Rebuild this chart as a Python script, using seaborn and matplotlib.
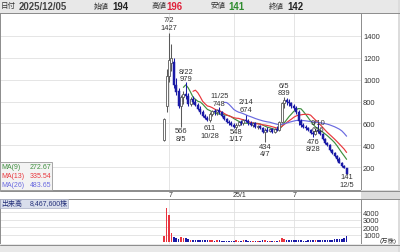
import matplotlib
matplotlib.use("Agg")
import matplotlib.pyplot as plt
import matplotlib.transforms as mtransforms
from matplotlib.patches import Rectangle
import numpy as np
import pandas as pd
import seaborn as sns

# ---------------- data (weekly candles, price in yen, volume in 万株) ----------------
week_start = "2024-06-17"
opens = [450, 760, 1030, 1150, 1160, 950, 900, 760, 840, 870, 850, 780, 820, 800, 770, 730, 700, 670, 650, 630,
         690, 710, 700, 720, 700, 670, 640, 610, 600, 590, 570, 590, 610, 600, 630, 620, 600, 590, 600, 570,
         580, 560, 520, 540, 530, 550, 520, 550, 540, 610, 790, 810, 800, 790, 760, 740, 700, 620, 590, 570,
         560, 540, 510, 500, 540, 530, 500, 460, 418, 400, 360, 330, 300, 272, 242, 213, 194]
highs = [650, 1100, 1427, 1320, 1200, 1010, 920, 860, 900, 979, 880, 840, 850, 820, 790, 760, 720, 690, 670, 700,
         720, 730, 730, 748, 710, 680, 650, 630, 620, 600, 600, 620, 630, 640, 674, 640, 620, 610, 610, 590,
         590, 570, 560, 570, 560, 560, 560, 580, 620, 800, 839, 830, 820, 800, 780, 760, 720, 640, 600, 590,
         570, 550, 530, 540, 606, 540, 510, 470, 430, 410, 370, 340, 310, 290, 250, 220, 196]
lows = [440, 700, 980, 1080, 920, 860, 740, 566, 780, 820, 760, 760, 780, 760, 720, 690, 660, 640, 620, 611,
        670, 680, 680, 690, 660, 630, 600, 590, 580, 560, 548, 580, 590, 590, 610, 590, 580, 570, 560, 550,
        550, 510, 434, 520, 520, 510, 510, 530, 530, 600, 740, 770, 760, 740, 720, 690, 590, 570, 560, 540,
        530, 500, 476, 490, 510, 490, 450, 410, 390, 350, 320, 290, 260, 235, 205, 190, 141]
closes = [640, 1030, 1180, 1200, 950, 890, 760, 840, 870, 850, 780, 820, 800, 770, 730, 700, 670, 650, 630, 690,
          710, 700, 720, 700, 670, 640, 610, 600, 590, 570, 590, 610, 600, 630, 620, 600, 590, 600, 570, 580,
          560, 520, 540, 530, 550, 520, 550, 540, 610, 790, 810, 800, 790, 760, 740, 700, 620, 590, 570, 560,
          540, 510, 500, 530, 530, 500, 460, 418, 400, 360, 330, 300, 272, 242, 213, 195, 142]
volumes = [800, 4600, 3700, 1200, 700, 500, 450, 700, 500, 600, 400, 350, 300, 280, 300, 260, 250, 230, 240, 300,
           280, 220, 230, 260, 220, 200, 210, 180, 170, 200, 230, 220, 200, 240, 280, 220, 200, 190, 210, 180,
           190, 230, 300, 220, 200, 190, 210, 200, 350, 500, 450, 300, 260, 240, 230, 260, 300, 240, 220, 210,
           230, 240, 280, 260, 300, 250, 270, 300, 280, 320, 350, 380, 420, 450, 480, 520, 847]

ma_periods = [9, 13, 26]
ma_names = ["MA(9)", "MA(13)", "MA(26)"]
ma_last_text = ["272.67", "335.54", "483.65"]
ma_colors = ["#3f8f3f", "#e8383d", "#6a6ae0"]

price_ticks = [200, 400, 600, 800, 1000, 1200, 1400]
volume_ticks = [1000, 2000, 3000, 4000]
month_tick_dates = ["2024-07-01", "2025-01-06", "2025-06-30"]
month_tick_labels = ["7", "25/1", "7"]

# (week index, kind, date text, value offset px, date offset px)
hl_labels = [
    (2, "high", "7/2", 5.5, 13.5), (7, "low", "8/5", 3.5, 11), (9, "high", "8/22", 3, 10.5),
    (19, "low", "10/28", 5, 13), (23, "high", "11/25", 3.5, 11.5), (30, "low", "1/17", 2.5, 9.5),
    (34, "high", "2/14", 5.5, 13.5), (42, "low", "4/7", 4.5, 11.5), (50, "high", "6/5", 4.5, 11.5),
    (62, "low", "8/28", 4, 11), (64, "high", "9/10", -6.5, 0.5), (76, "low", "12/5", 3, 10.5),
]
header_date = "2025/12/05"
volume_text = "8,467,600株"

# ---------------- frame ----------------
sns.set_theme(style="white")
plt.rcParams["font.family"] = ["Liberation Sans", "Noto Sans CJK JP", "DejaVu Sans"]

W, H = 400, 253
fig = plt.figure(figsize=(W / 100, H / 100), dpi=100)
fig.patch.set_facecolor("white")


def fax(x0, y0, x1, y1):
    return [x0 / W, 1 - y1 / H, (x1 - x0) / W, (y1 - y0) / H]


def fx(x):
    return x / W


def fy(y):
    return 1 - y / H


# background strips
fig.patches.append(Rectangle((0, fy(13.5)), 1, 13.5 / H, transform=fig.transFigure,
                             facecolor="#e8e8e8", edgecolor="none", zorder=0))
fig.patches.append(Rectangle((0, 0), 1, 8 / H, transform=fig.transFigure,
                             facecolor="#e8e8e8", edgecolor="none", zorder=0))
fig.patches.append(Rectangle((fx(361), fy(200)), 39 / W, 9 / H, transform=fig.transFigure,
                             facecolor="#dcdcdc", edgecolor="none", zorder=0))
fig.patches.append(Rectangle((fx(398), 0), 2 / W, 1, transform=fig.transFigure,
                             facecolor="#dcdcdc", edgecolor="none", zorder=0))
for yy in [13.5, 191.5, 199.5, 245.5]:
    fig.lines.append(plt.Line2D([0, 1], [fy(yy), fy(yy)], transform=fig.transFigure,
                                color="#8c8c8c", lw=0.7))

n = len(closes)
df = pd.DataFrame({"idx": np.arange(n), "open": opens, "high": highs, "low": lows,
                   "close": closes, "volume": volumes})
for p in ma_periods:
    df[f"ma{p}"] = df["close"].rolling(p).mean()
up = (df["close"] >= df["open"]).to_numpy()

start = pd.Timestamp(week_start)
month_pos = [(pd.Timestamp(d) - start).days // 7 for d in month_tick_dates]

x_lo, x_hi = -68.42, 82.0

# ---------------- price panel ----------------
ax = fig.add_axes(fax(0, 14, 361, 191))
ax.set_facecolor("white")
for i, p in enumerate(ma_periods):
    sns.lineplot(data=df, x="idx", y=f"ma{p}", ax=ax, color=ma_colors[i], lw=0.85, zorder=2, legend=False)

down_c = "#1a1aa6"
up_edge = "#5a5a5a"
ax.vlines(df["idx"], df["low"], df["high"], colors=np.where(up, up_edge, down_c), lw=0.75, zorder=3)
bb = np.minimum(df["open"], df["close"]).to_numpy()
bh = np.maximum(np.abs(df["close"] - df["open"]).to_numpy(), 4)
ax.bar(df["idx"][up], bh[up], bottom=bb[up], width=0.85, facecolor="white", edgecolor=up_edge, lw=0.6, zorder=4)
ax.bar(df["idx"][~up], bh[~up], bottom=bb[~up], width=0.85, color=down_c, edgecolor=down_c, lw=0.35, zorder=4)

ax.set_xlim(x_lo, x_hi)
ax.set_ylim(-7, 1607)
ax.set_yticks(price_ticks)
ax.set_xticks(month_pos)
ax.set_xticklabels([])
ax.grid(True, color="#e0e0e0", lw=0.6)
ax.set_axisbelow(True)
ax.yaxis.tick_right()
ax.tick_params(axis="y", length=0, pad=1.5, labelsize=5.4, labelcolor="#333333")
ax.tick_params(axis="x", length=0)
ax.set_xlabel("")
ax.set_ylabel("")
for s in ax.spines.values():
    s.set_color("#8c8c8c")
    s.set_linewidth(0.7)

px2pt = 0.72
for i, kind, dtext, voff, doff in hl_labels:
    if kind == "high":
        yv, sign, vtxt = highs[i], 1, str(highs[i])
    else:
        yv, sign, vtxt = lows[i], -1, str(lows[i])
    ax.annotate(vtxt, (i, yv), xytext=(0, sign * voff * px2pt), textcoords="offset points",
                ha="center", va="center", fontsize=5.4, color="#333333", zorder=6)
    ax.annotate(dtext, (i, yv), xytext=(0, sign * doff * px2pt), textcoords="offset points",
                ha="center", va="center", fontsize=5.4, color="#333333", zorder=6)

# MA legend box
fig.patches.append(Rectangle((0, fy(191)), 52 / W, 28.5 / H, transform=fig.transFigure,
                             facecolor="#f3f3f3", edgecolor="#9a9a9a", lw=0.6, zorder=5))
for k in range(3):
    yy = 167.5 + 9 * k
    fig.text(fx(1), fy(yy), ma_names[k], fontsize=5.0, color=ma_colors[k], va="center", ha="left", zorder=6)
    fig.text(fx(51), fy(yy), ma_last_text[k], fontsize=5.0, color=ma_colors[k], va="center", ha="right", zorder=6)

# ---------------- volume panel ----------------
vax = fig.add_axes(fax(0, 200, 361, 245))
vax.set_facecolor("white")
vcolors = np.where(up, "#e8343f", "#1a1aa6")
vax.bar(df["idx"], df["volume"], width=0.7, color=vcolors, lw=0, zorder=3)
vax.set_xlim(x_lo, x_hi)
vax.set_ylim(-241, 5783)
vax.set_yticks(volume_ticks)
vax.set_xticks(month_pos)
vax.set_xticklabels([])
vax.grid(True, color="#e0e0e0", lw=0.6)
vax.set_axisbelow(True)
vax.yaxis.tick_right()
vax.tick_params(axis="y", length=0, pad=1.5, labelsize=5.4, labelcolor="#333333")
vax.tick_params(axis="x", length=0)
for s in vax.spines.values():
    s.set_color("#8c8c8c")
    s.set_linewidth(0.7)
fig.text(fx(380), fy(241), "(万株)", fontsize=4.6, color="#333333", va="center", ha="left")

fig.patches.append(Rectangle((0, fy(208.5)), 67.5 / W, 8.5 / H, transform=fig.transFigure,
                             facecolor="#d9deec", edgecolor="#a8aec4", lw=0.5, zorder=5))
fig.text(fx(1), fy(204.3), "出来高", fontsize=5.0, color="#24307a", va="center", ha="left", zorder=6)
fig.text(fx(30), fy(204.3), volume_text, fontsize=5.0, color="#24307a", va="center", ha="left", zorder=6)

# month labels in the two strips
for axx, ypix in [(ax, 195.5), (vax, 249.3)]:
    tr = mtransforms.blended_transform_factory(axx.transData, fig.transFigure)
    for pos, lab in zip(month_pos, month_tick_labels):
        axx.text(pos - 0.3, fy(ypix), lab, transform=tr, fontsize=5, color="#333333",
                 ha="left", va="center", clip_on=False)

# ---------------- header ----------------
hy = 6.8
fig.text(fx(1), fy(hy), "日付", fontsize=5.4, color="#333333", va="center", ha="left")
fig.text(fx(19), fy(hy), header_date, fontsize=6.9, color="#444444", va="center", ha="left", weight="bold")
fig.text(fx(94), fy(hy), "始値", fontsize=5.4, color="#333333", va="center", ha="left")
fig.text(fx(112), fy(hy), str(opens[-1]), fontsize=6.9, color="#222222", va="center", ha="left", weight="bold")
fig.text(fx(151), fy(hy), "高値", fontsize=5.4, color="#333333", va="center", ha="left")
fig.text(fx(166.5), fy(hy), str(highs[-1]), fontsize=6.9, color="#e0203a", va="center", ha="left", weight="bold")
fig.text(fx(211), fy(hy), "安値", fontsize=5.4, color="#333333", va="center", ha="left")
fig.text(fx(228), fy(hy), str(lows[-1]), fontsize=6.9, color="#2e8b2e", va="center", ha="left", weight="bold")
fig.text(fx(269), fy(hy), "終値", fontsize=5.4, color="#333333", va="center", ha="left")
fig.text(fx(287), fy(hy), str(closes[-1]), fontsize=6.9, color="#222222", va="center", ha="left", weight="bold")

fig.savefig("out.png", dpi=100, facecolor=fig.get_facecolor())
